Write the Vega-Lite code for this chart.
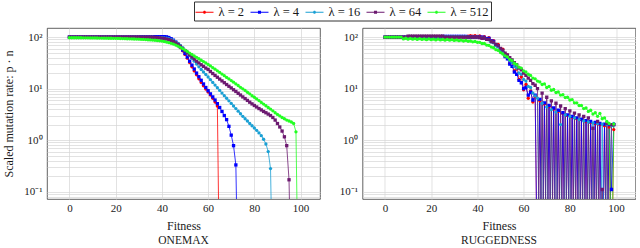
{
"$schema": "https://vega.github.io/schema/vega-lite/v6.json",
"padding": {"left": 2, "right": 0, "top": 1, "bottom": 0},
"config": {
 "font": "Liberation Serif",
 "view": {"stroke": "#3a3a3a", "strokeWidth": 0.8},
 "axis": {"labelFont": "Liberation Serif", "titleFont": "Liberation Serif", "labelFontSize": 11, "titleFontSize": 12, "titleFontWeight": "normal", "labelColor": "#1a1a1a", "titleColor": "#1a1a1a", "gridColor": "#d6d6d6", "gridWidth": 0.7, "gridOpacity": 1, "domain": false, "ticks": false, "labelPadding": 4, "labelOverlap": false},
 "title": {"font": "Liberation Serif", "fontSize": 11.5, "fontWeight": "normal", "color": "#1a1a1a"},
 "concat": {"spacing": 17.5}
},
"datasets": {
"om": [
{"x":0,"a2":100,"b4":100,"c16":100,"d64":100,"e512":97},
{"x":1,"a2":100,"b4":100,"c16":100,"d64":100,"e512":97},
{"x":2,"a2":100,"b4":100,"c16":100,"d64":100,"e512":97},
{"x":3,"a2":100,"b4":100,"c16":100,"d64":100,"e512":97},
{"x":4,"a2":100,"b4":100,"c16":100,"d64":100,"e512":97},
{"x":5,"a2":100,"b4":100,"c16":100,"d64":100,"e512":97},
{"x":6,"a2":100,"b4":100,"c16":100,"d64":100,"e512":96.8},
{"x":7,"a2":100,"b4":100,"c16":100,"d64":100,"e512":96.6},
{"x":8,"a2":100,"b4":100,"c16":100,"d64":100,"e512":96.5},
{"x":9,"a2":100,"b4":100,"c16":100,"d64":100,"e512":96.4},
{"x":10,"a2":100,"b4":100,"c16":100,"d64":100,"e512":96.3},
{"x":11,"a2":100,"b4":100,"c16":100,"d64":100,"e512":96.1},
{"x":12,"a2":100,"b4":100,"c16":100,"d64":100,"e512":96},
{"x":13,"a2":100,"b4":100,"c16":100,"d64":100,"e512":95.8},
{"x":14,"a2":100,"b4":100,"c16":100,"d64":100,"e512":95.6},
{"x":15,"a2":100,"b4":100,"c16":100,"d64":100,"e512":95.4},
{"x":16,"a2":100,"b4":100,"c16":100,"d64":100,"e512":95.2},
{"x":17,"a2":100,"b4":100,"c16":100,"d64":100,"e512":95},
{"x":18,"a2":100,"b4":100,"c16":100,"d64":100,"e512":94.8},
{"x":19,"a2":100,"b4":100,"c16":100,"d64":100,"e512":94.6},
{"x":20,"a2":100,"b4":100,"c16":100,"d64":100,"e512":94.4},
{"x":21,"a2":100,"b4":100,"c16":100,"d64":100,"e512":94.1},
{"x":22,"a2":100,"b4":100,"c16":100,"d64":100,"e512":93.8},
{"x":23,"a2":100,"b4":100,"c16":100,"d64":100,"e512":93.5},
{"x":24,"a2":100,"b4":100,"c16":100,"d64":100,"e512":93.2},
{"x":25,"a2":100,"b4":100,"c16":100,"d64":100,"e512":92.9},
{"x":26,"a2":100,"b4":100,"c16":100,"d64":100,"e512":92.5},
{"x":27,"a2":100,"b4":100,"c16":100,"d64":100,"e512":92.1},
{"x":28,"a2":100,"b4":100,"c16":100,"d64":100,"e512":91.7},
{"x":29,"a2":100,"b4":100,"c16":100,"d64":100,"e512":91.3},
{"x":30,"a2":100,"b4":100,"c16":100,"d64":100,"e512":90.9},
{"x":31,"a2":101,"b4":101,"c16":100,"d64":99.5,"e512":90.4},
{"x":32,"a2":101,"b4":101,"c16":100,"d64":99.5,"e512":89.9},
{"x":33,"a2":101,"b4":101,"c16":100,"d64":99.5,"e512":89.4},
{"x":34,"a2":101,"b4":101,"c16":100,"d64":99.5,"e512":88.8},
{"x":35,"a2":101,"b4":101,"c16":100,"d64":99.5,"e512":88.2},
{"x":36,"a2":101,"b4":101,"c16":99.5,"d64":99,"e512":87.5},
{"x":37,"a2":102,"b4":102,"c16":99,"d64":98.5,"e512":86.7},
{"x":38,"a2":102,"b4":102,"c16":98.5,"d64":97.5,"e512":85.8},
{"x":39,"a2":102,"b4":102,"c16":98,"d64":96.5,"e512":84.7},
{"x":40,"a2":102,"b4":102,"c16":97.5,"d64":95,"e512":83.5},
{"x":41,"a2":102,"b4":102,"c16":96.5,"d64":93.5,"e512":82},
{"x":42,"a2":99,"b4":101,"c16":95,"d64":91.5,"e512":80},
{"x":43,"a2":96,"b4":98,"c16":93,"d64":89,"e512":78},
{"x":44,"a2":91,"b4":93,"c16":90,"d64":86,"e512":75.5},
{"x":45,"a2":85,"b4":87,"c16":86,"d64":82,"e512":73},
{"x":46,"a2":78,"b4":80,"c16":81,"d64":77,"e512":70},
{"x":47,"a2":70,"b4":72,"c16":75,"d64":72,"e512":66.5},
{"x":48,"a2":62,"b4":64,"c16":69,"d64":66,"e512":63},
{"x":49,"a2":54,"b4":56,"c16":62,"d64":60,"e512":59.5},
{"x":50,"a2":46,"b4":48,"c16":55,"d64":54.5,"e512":56},
{"x":51,"a2":39,"b4":41,"c16":49,"d64":49.5,"e512":52.5},
{"x":52,"a2":32,"b4":34,"c16":43.5,"d64":45,"e512":49},
{"x":53,"a2":26.5,"b4":28.5,"c16":38.5,"d64":41,"e512":46},
{"x":54,"a2":22,"b4":24,"c16":34,"d64":37.5,"e512":43},
{"x":55,"a2":18.5,"b4":20,"c16":30,"d64":34,"e512":40.5},
{"x":56,"a2":15.5,"b4":17,"c16":26.5,"d64":31.5,"e512":38},
{"x":57,"a2":13.2,"b4":14.5,"c16":23.5,"d64":29,"e512":35.5},
{"x":58,"a2":11.3,"b4":12.3,"c16":21,"d64":27,"e512":33.5},
{"x":59,"a2":9.8,"b4":10.5,"c16":18.8,"d64":25,"e512":31.5},
{"x":60,"a2":8.6,"b4":9.1,"c16":16.8,"d64":23.5,"e512":29.5},
{"x":61,"a2":7.5,"b4":7.9,"c16":14.9,"d64":21.5,"e512":27.5},
{"x":62,"a2":6.5,"b4":6.9,"c16":13.2,"d64":19.6,"e512":25.5},
{"x":63,"a2":5.5,"b4":6.0,"c16":11.7,"d64":18,"e512":23.8},
{"x":64,"a2":4.6,"b4":5.1,"c16":10.4,"d64":16.6,"e512":22.1},
{"x":65,"a2":0.001,"b4":4.3,"c16":9.2,"d64":15.3,"e512":20.6},
{"x":66,"b4":3.6,"c16":8.2,"d64":14.1,"e512":19.1},
{"x":67,"b4":3.0,"c16":7.3,"d64":13,"e512":17.8},
{"x":68,"b4":2.5,"c16":6.5,"d64":12,"e512":16.5},
{"x":69,"b4":1.85,"c16":5.8,"d64":11.1,"e512":15.4},
{"x":70,"b4":1.25,"c16":5.15,"d64":10.3,"e512":14.3},
{"x":71,"b4":0.78,"c16":4.6,"d64":9.5,"e512":13.3},
{"x":72,"b4":0.33,"c16":4.1,"d64":8.8,"e512":12.3},
{"x":73,"b4":0.001,"c16":3.65,"d64":8.1,"e512":11.5},
{"x":74,"c16":3.25,"d64":7.5,"e512":10.6},
{"x":75,"c16":2.9,"d64":6.9,"e512":9.9},
{"x":76,"c16":2.6,"d64":6.4,"e512":9.2},
{"x":77,"c16":2.35,"d64":5.9,"e512":8.5},
{"x":78,"c16":2.1,"d64":5.45,"e512":7.9},
{"x":79,"c16":1.9,"d64":5.05,"e512":7.3},
{"x":80,"c16":1.72,"d64":4.7,"e512":6.8},
{"x":81,"c16":1.55,"d64":4.4,"e512":6.3},
{"x":82,"c16":1.38,"d64":4.1,"e512":5.85},
{"x":83,"c16":1.22,"d64":3.85,"e512":5.4},
{"x":84,"c16":1.04,"d64":3.6,"e512":5.0},
{"x":85,"c16":0.84,"d64":3.4,"e512":4.65},
{"x":86,"c16":0.6,"d64":3.2,"e512":4.3},
{"x":87,"c16":0.28,"d64":3.0,"e512":4.0},
{"x":88,"c16":0.001,"d64":2.75,"e512":3.7},
{"x":89,"d64":2.45,"e512":3.4},
{"x":90,"d64":2.1,"e512":3.15},
{"x":91,"d64":1.8,"e512":2.95},
{"x":92,"d64":1.5,"e512":2.75},
{"x":93,"d64":1.16,"e512":2.6},
{"x":94,"d64":0.78,"e512":2.45},
{"x":95,"d64":0.17,"e512":2.35},
{"x":96,"d64":0.001,"e512":2.25},
{"x":97,"e512":2.1},
{"x":98,"e512":1.45},
{"x":99,"e512":0.001}
],
"rug": [
{"x":0,"a2":100,"b4":100,"c16":100,"d64":100,"e512":100},
{"x":1,"a2":100,"b4":100,"c16":100,"d64":100,"e512":100},
{"x":2,"a2":100,"b4":100,"c16":100,"d64":100,"e512":100},
{"x":3,"a2":100,"b4":100,"c16":100,"d64":100,"e512":100},
{"x":4,"a2":100,"b4":100,"c16":100,"d64":100,"e512":100},
{"x":5,"a2":100,"b4":100,"c16":100,"d64":100,"e512":100},
{"x":6,"a2":100,"b4":100,"c16":100,"d64":100,"e512":100},
{"x":7,"a2":100,"b4":100,"c16":100,"d64":100,"e512":100},
{"x":8,"a2":100,"b4":100,"c16":100,"d64":100,"e512":92},
{"x":9,"a2":100,"b4":100,"c16":100,"d64":100,"e512":95},
{"x":10,"a2":100,"b4":100,"c16":100,"d64":104,"e512":91},
{"x":11,"a2":100,"b4":100,"c16":100,"d64":104,"e512":94},
{"x":12,"a2":100,"b4":100,"c16":100,"d64":104,"e512":91},
{"x":13,"a2":100,"b4":100,"c16":100,"d64":104,"e512":93},
{"x":14,"a2":100,"b4":100,"c16":100,"d64":104,"e512":90},
{"x":15,"a2":100,"b4":100,"c16":100,"d64":104,"e512":93},
{"x":16,"a2":100,"b4":100,"c16":100,"d64":104,"e512":90},
{"x":17,"a2":100,"b4":100,"c16":100,"d64":104,"e512":92},
{"x":18,"a2":100,"b4":100,"c16":100,"d64":104,"e512":89},
{"x":19,"a2":100,"b4":100,"c16":100,"d64":104,"e512":92},
{"x":20,"a2":100,"b4":100,"c16":100,"d64":104,"e512":89},
{"x":21,"a2":100,"b4":100,"c16":100,"d64":104,"e512":91},
{"x":22,"a2":100,"b4":100,"c16":100,"d64":104,"e512":88},
{"x":23,"a2":100,"b4":100,"c16":100,"d64":104,"e512":91},
{"x":24,"a2":100,"b4":100,"c16":100,"d64":104,"e512":88},
{"x":25,"a2":100,"b4":103,"c16":102,"d64":104,"e512":90},
{"x":26,"a2":100,"b4":103,"c16":102,"d64":100,"e512":87},
{"x":27,"a2":100,"b4":103,"c16":102,"d64":100,"e512":90},
{"x":28,"a2":100,"b4":103,"c16":102,"d64":100,"e512":87},
{"x":29,"a2":100,"b4":103,"c16":102,"d64":100,"e512":89},
{"x":30,"a2":100,"b4":103,"c16":102,"d64":100,"e512":86},
{"x":31,"a2":100,"b4":103,"c16":102,"d64":100,"e512":88},
{"x":32,"a2":100,"b4":103,"c16":102,"d64":100,"e512":85},
{"x":33,"a2":100,"b4":103,"c16":102,"d64":100,"e512":87},
{"x":34,"a2":100,"b4":103,"c16":102,"d64":100,"e512":84},
{"x":35,"a2":100,"b4":103,"c16":102,"d64":100,"e512":86},
{"x":36,"a2":104,"b4":100,"c16":100,"d64":100,"e512":83},
{"x":37,"a2":106,"b4":100,"c16":100,"d64":100,"e512":84},
{"x":38,"a2":104,"b4":100,"c16":100,"d64":100,"e512":81},
{"x":39,"a2":106,"b4":100,"c16":100,"d64":100,"e512":82},
{"x":40,"a2":103,"b4":100,"c16":100,"d64":100,"e512":79},
{"x":41,"a2":105,"b4":100,"c16":99,"d64":98,"e512":79},
{"x":42,"a2":100,"b4":100,"c16":96,"d64":95,"e512":75},
{"x":43,"a2":102,"b4":98,"c16":95,"d64":96,"e512":75},
{"x":44,"a2":94,"b4":93,"c16":90,"d64":90,"e512":70},
{"x":45,"a2":97,"b4":94,"c16":88,"d64":90,"e512":69},
{"x":46,"a2":84,"b4":84,"c16":80,"d64":82,"e512":64},
{"x":47,"a2":85,"b4":82,"c16":77,"d64":80,"e512":62},
{"x":48,"a2":70,"b4":70,"c16":68,"d64":72,"e512":57},
{"x":49,"a2":72,"b4":66,"c16":64,"d64":68,"e512":55},
{"x":50,"a2":55,"b4":55,"c16":55,"d64":60,"e512":50},
{"x":51,"a2":58,"b4":50,"c16":51,"d64":56,"e512":47},
{"x":52,"a2":42,"b4":42,"c16":44,"d64":49,"e512":43},
{"x":53,"a2":45,"b4":38,"c16":41,"d64":45,"e512":41},
{"x":54,"a2":31,"b4":30,"c16":35,"d64":40,"e512":37},
{"x":55,"a2":33,"b4":27,"c16":32,"d64":36,"e512":35},
{"x":56,"a2":22,"b4":21,"c16":27,"d64":32,"e512":31},
{"x":57,"a2":24,"b4":19,"c16":25,"d64":29,"e512":29},
{"x":58,"a2":15,"b4":14.5,"c16":20,"d64":25,"e512":26},
{"x":59,"a2":17,"b4":13,"c16":19,"d64":23,"e512":25},
{"x":60,"a2":9.5,"b4":10,"c16":15,"d64":20,"e512":22},
{"x":61,"a2":12,"b4":10.5,"c16":14,"d64":18,"e512":21},
{"x":62,"a2":6.5,"b4":7.5,"c16":11,"d64":16,"e512":19},
{"x":63,"a2":9,"b4":8.5,"c16":10.5,"d64":14.5,"e512":18},
{"x":64,"a2":5.5,"b4":6,"c16":8.2,"d64":12.5,"e512":16},
{"x":65,"a2":7,"b4":7.5,"c16":7.2,"d64":11.6,"e512":15.5},
{"x":66,"a2":0.001,"b4":0.001,"c16":6.5,"d64":10,"e512":14},
{"x":67,"a2":5.8,"b4":6.2,"c16":0.001,"d64":0.001,"e512":13.5},
{"x":68,"a2":0.001,"b4":0.001,"c16":5.2,"d64":8.2,"e512":12},
{"x":69,"a2":5,"b4":5.3,"c16":0.001,"d64":0.001,"e512":12.3},
{"x":70,"a2":0.001,"b4":0.001,"c16":4.4,"d64":6.8,"e512":10.5},
{"x":71,"a2":4.5,"b4":4.7,"c16":0.001,"d64":0.001,"e512":11},
{"x":72,"a2":0.001,"b4":0.001,"c16":3.9,"d64":5.8,"e512":9.3},
{"x":73,"a2":4,"b4":4.2,"c16":0.001,"d64":0.001,"e512":9.6},
{"x":74,"a2":0.001,"b4":0.001,"c16":3.5,"d64":5.2,"e512":8.4},
{"x":75,"a2":3.6,"b4":3.8,"c16":0.001,"d64":0.001,"e512":8.6},
{"x":76,"a2":0.001,"b4":0.001,"c16":2,"d64":4.6,"e512":7.5},
{"x":77,"a2":3.3,"b4":3.4,"c16":0.001,"d64":0.001,"e512":7.6},
{"x":78,"a2":0.001,"b4":0.001,"c16":3.1,"d64":4.1,"e512":6.7},
{"x":79,"a2":3,"b4":3.1,"c16":0.001,"d64":0.001,"e512":6.8},
{"x":80,"a2":0.001,"b4":0.001,"c16":2.9,"d64":3.7,"e512":6},
{"x":81,"a2":2.8,"b4":2.9,"c16":0.001,"d64":0.001,"e512":6.1},
{"x":82,"a2":0.001,"b4":0.001,"c16":2.7,"d64":3.35,"e512":5.3},
{"x":83,"a2":2.6,"b4":2.7,"c16":0.001,"d64":0.001,"e512":5.3},
{"x":84,"a2":0.001,"b4":0.001,"c16":2.5,"d64":3.1,"e512":4.7},
{"x":85,"a2":2.5,"b4":2.55,"c16":0.001,"d64":0.001,"e512":4.7},
{"x":86,"a2":0.001,"b4":0.001,"c16":2.35,"d64":2.9,"e512":4.1},
{"x":87,"a2":2.3,"b4":2.4,"c16":0.001,"d64":0.001,"e512":4.2},
{"x":88,"a2":0.001,"b4":0.001,"c16":2.25,"d64":2.7,"e512":3.6},
{"x":89,"a2":2.2,"b4":2.3,"c16":0.001,"d64":0.001,"e512":3.8},
{"x":90,"a2":0.001,"b4":0.001,"c16":2.15,"d64":1.7,"e512":3.2},
{"x":91,"a2":2.1,"b4":2.2,"c16":0.001,"d64":0.001,"e512":3.4},
{"x":92,"a2":0.001,"b4":0.001,"c16":2.1,"d64":2.3,"e512":2.9},
{"x":93,"a2":2,"b4":2.1,"c16":0.001,"d64":0.001,"e512":3.3},
{"x":94,"a2":0.001,"b4":0.001,"c16":2.05,"d64":0.11,"e512":2.6},
{"x":95,"a2":1.9,"b4":2.05,"c16":0.001,"d64":0.001,"e512":2.7},
{"x":96,"a2":0.001,"b4":0.001,"c16":2,"d64":2.1,"e512":2.3},
{"x":97,"a2":1.8,"b4":2,"c16":0.001,"d64":0.001,"e512":2.1},
{"x":98,"a2":0.001,"b4":0.11,"c16":1.9,"d64":2,"e512":0.001},
{"x":99,"a2":1.6,"b4":2,"c16":2.1,"d64":2,"e512":2.05}
]
},
"hconcat": [
{
 "width": 273, "height": 171,
 "data": {"name": "om"},
 "transform": [{"fold": ["a2","b4","c16","d64","e512"], "as": ["lam","v"]}, {"filter": "isValid(datum.v)"}],
 "title": {"text": "ONEMAX", "orient": "bottom", "frame": "group", "offset": 4},
 "encoding": {
  "x": {"field": "x", "type": "quantitative", "scale": {"domain": [-9.7, 108.4], "nice": false, "zero": false}, "axis": {"values": [0,20,40,60,80,100], "title": "Fitness", "titlePadding": 7, "labelPadding": 3}},
  "y": {"field": "v", "type": "quantitative", "scale": {"type": "log", "domain": [0.072, 150], "nice": false}, "axis": {"values": [0.08,0.09,0.1,0.2,0.3,0.4,0.5,0.6,0.7,0.8,0.9,1,2,3,4,5,6,7,8,9,10,20,30,40,50,60,70,80,90,100], "labelExpr": "datum.value == 100 ? '10²' : datum.value == 10 ? '10¹' : datum.value == 1 ? '10⁰' : datum.value == 0.1 ? '10⁻¹' : ''", "title": "Scaled mutation rate: p · n", "titlePadding": 8, "labelPadding": 5}}
 },
 "layer": [
  {"transform": [{"filter": "datum.x > 1000"}], "mark": {"type": "point", "filled": true, "opacity": 1, "clip": true},
   "encoding": {
    "color": {"field": "lam", "type": "nominal", "scale": {"domain": ["a2","b4","c16","d64","e512"], "range": ["#ff0000","#0000ff","#1aa0d4","#6c1a70","#22ff22"]},
     "legend": {"orient": "none", "legendX": 147, "legendY": -26.5, "direction": "horizontal", "columns": 5, "title": null,
      "labelExpr": "'λ = ' + substring(datum.label, 1)", "labelFont": "Liberation Serif", "labelFontSize": 12.5, "labelColor": "#1a1a1a",
      "symbolSize": 324, "symbolStrokeWidth": 0, "labelOffset": 5, "columnPadding": 6, "padding": 1.5, "strokeColor": "#333", "fillColor": "white"}},
    "shape": {"field": "lam", "type": "nominal", "scale": {"domain": ["a2","b4","c16","d64","e512"], "range": [
      "M-1,-0.045H-0.165V0.045H-1ZM0.165,-0.045H1V0.045H0.165ZM-0.17,0A0.17,0.17,0,1,1,0.17,0A0.17,0.17,0,1,1,-0.17,0Z",
      "M-1,-0.045H-0.165V0.045H-1ZM0.165,-0.045H1V0.045H0.165ZM-0.17,-0.17H0.17V0.17H-0.17Z",
      "M-1,-0.045H-0.165V0.045H-1ZM0.165,-0.045H1V0.045H0.165ZM-0.17,0A0.17,0.17,0,1,1,0.17,0A0.17,0.17,0,1,1,-0.17,0Z",
      "M-1,-0.045H-0.165V0.045H-1ZM0.165,-0.045H1V0.045H0.165ZM-0.17,-0.17H0.17V0.17H-0.17Z",
      "M-1,-0.045H-0.165V0.045H-1ZM0.165,-0.045H1V0.045H0.165ZM-0.17,0A0.17,0.17,0,1,1,0.17,0A0.17,0.17,0,1,1,-0.17,0Z"]}}
   }},
  {"mark": {"type": "line", "strokeWidth": 0.8, "clip": true}, "encoding": {"color": {"field": "lam", "type": "nominal", "legend": null}}},
  {"transform": [{"filter": "datum.lam == 'a2'"}], "mark": {"type": "point", "shape": "circle", "filled": true, "size": 11, "opacity": 1, "clip": true}, "encoding": {"color": {"field": "lam", "type": "nominal", "legend": null}}},
  {"transform": [{"filter": "datum.lam == 'b4'"}], "mark": {"type": "point", "shape": "square", "filled": true, "size": 11, "opacity": 1, "clip": true}, "encoding": {"color": {"field": "lam", "type": "nominal", "legend": null}}},
  {"transform": [{"filter": "datum.lam == 'c16'"}], "mark": {"type": "point", "shape": "circle", "filled": true, "size": 11, "opacity": 1, "clip": true}, "encoding": {"color": {"field": "lam", "type": "nominal", "legend": null}}},
  {"transform": [{"filter": "datum.lam == 'd64'"}], "mark": {"type": "point", "shape": "square", "filled": true, "size": 11, "opacity": 1, "clip": true}, "encoding": {"color": {"field": "lam", "type": "nominal", "legend": null}}},
  {"transform": [{"filter": "datum.lam == 'e512'"}], "mark": {"type": "point", "shape": "circle", "filled": true, "size": 11, "opacity": 1, "clip": true}, "encoding": {"color": {"field": "lam", "type": "nominal", "legend": null}}}
 ]
},
{
 "width": 273, "height": 171,
 "data": {"name": "rug"},
 "transform": [{"fold": ["a2","b4","c16","d64","e512"], "as": ["lam","v"]}, {"filter": "isValid(datum.v)"}],
 "title": {"text": "RUGGEDNESS", "orient": "bottom", "frame": "group", "offset": 4},
 "encoding": {
  "x": {"field": "x", "type": "quantitative", "scale": {"domain": [-9.7, 108.4], "nice": false, "zero": false}, "axis": {"values": [0,20,40,60,80,100], "title": "Fitness", "titlePadding": 7, "labelPadding": 3}},
  "y": {"field": "v", "type": "quantitative", "scale": {"type": "log", "domain": [0.072, 150], "nice": false}, "axis": {"values": [0.08,0.09,0.1,0.2,0.3,0.4,0.5,0.6,0.7,0.8,0.9,1,2,3,4,5,6,7,8,9,10,20,30,40,50,60,70,80,90,100], "labelExpr": "datum.value == 100 ? '10²' : datum.value == 10 ? '10¹' : datum.value == 1 ? '10⁰' : datum.value == 0.1 ? '10⁻¹' : ''", "title": null, "labelPadding": 5}},
  "color": {"field": "lam", "type": "nominal", "scale": {"domain": ["a2","b4","c16","d64","e512"], "range": ["#ff0000","#0000ff","#1aa0d4","#6c1a70","#22ff22"]}, "legend": null}
 },
 "layer": [
  {"mark": {"type": "line", "strokeWidth": 0.8, "clip": true}},
  {"transform": [{"filter": "datum.lam == 'a2'"}], "mark": {"type": "point", "shape": "circle", "filled": true, "size": 11, "opacity": 1, "clip": true}},
  {"transform": [{"filter": "datum.lam == 'b4'"}], "mark": {"type": "point", "shape": "square", "filled": true, "size": 11, "opacity": 1, "clip": true}},
  {"transform": [{"filter": "datum.lam == 'c16'"}], "mark": {"type": "point", "shape": "circle", "filled": true, "size": 11, "opacity": 1, "clip": true}},
  {"transform": [{"filter": "datum.lam == 'd64'"}], "mark": {"type": "point", "shape": "square", "filled": true, "size": 11, "opacity": 1, "clip": true}},
  {"transform": [{"filter": "datum.lam == 'e512'"}], "mark": {"type": "point", "shape": "circle", "filled": true, "size": 11, "opacity": 1, "clip": true}}
 ]
}
]
}
